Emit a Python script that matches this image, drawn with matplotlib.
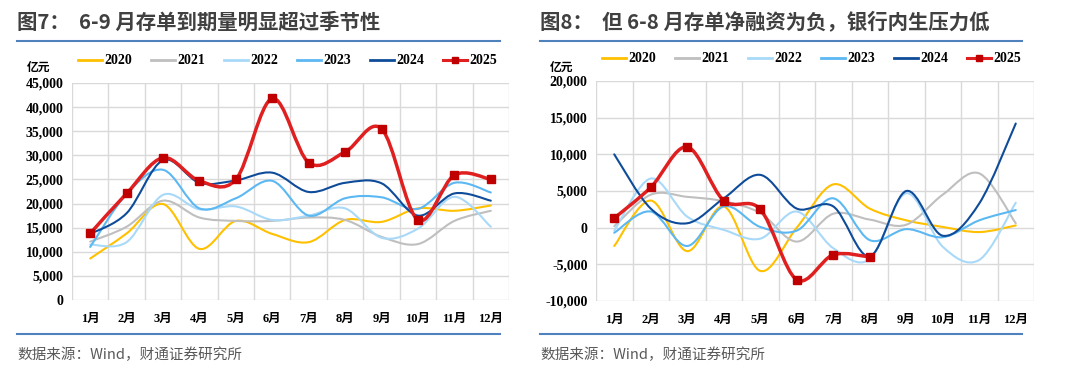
import matplotlib
matplotlib.use("Agg")
import matplotlib.pyplot as plt
from matplotlib.path import Path
from matplotlib.patches import PathPatch
from matplotlib.lines import Line2D
import numpy as np

plt.rcParams['font.family'] = ['Liberation Serif', 'Noto Sans CJK SC', 'DejaVu Sans']

months = ['1月', '2月', '3月', '4月', '5月', '6月', '7月', '8月', '9月', '10月', '11月', '12月']
years = ['2020', '2021', '2022', '2023', '2024', '2025']
colors = ['#FFC000', '#BFBFBF', '#A9D9F8', '#5CB8F2', '#0E4C9A', '#E02020']

# 图7: 存单到期量 (亿元)
mat_2020 = [8600, 13800, 19900, 10600, 16400, 13700, 12000, 16600, 16200, 19000, 18500, 19600]
mat_2021 = [12100, 15200, 20600, 17100, 16400, 16400, 17100, 16600, 13100, 11600, 16400, 18500]
mat_2022 = [11500, 12000, 21800, 18800, 19400, 16600, 17500, 19000, 12900, 14800, 21400, 15200]
mat_2023 = [11000, 22000, 27000, 19000, 21100, 24700, 17500, 21100, 21300, 18900, 24300, 22300]
mat_2024 = [13700, 18000, 29000, 24300, 24800, 26400, 22400, 24300, 24200, 17500, 22100, 20600]
mat_2025 = [13800, 22100, 29500, 24700, 25000, 41800, 28500, 30700, 35500, 16600, 25900, 25000]

# 图8: 存单净融资 (亿元)
net_2020 = [-2500, 3700, -3200, 2900, -5900, 0, 5900, 2600, 1000, 100, -600, 300]
net_2021 = [200, 4500, 4200, 3600, 2000, -1900, 1900, 1100, 400, 4500, 7400, 600]
net_2022 = [-400, 6700, 1500, -300, -1500, 2200, -2800, -4300, 4700, -2600, -4400, 3400]
net_2023 = [-700, 2200, -2500, 2900, 100, -400, 4000, -1700, -200, -1300, 1000, 2400]
net_2024 = [10000, 2600, 600, 4000, 7200, 2600, 2900, -3900, 5000, -1100, 3300, 14200]
net_2025 = [1300, 5500, 11000, 3700, 2500, -7100, -3700, -4000]

left_series = [mat_2020, mat_2021, mat_2022, mat_2023, mat_2024, mat_2025]
right_series = [net_2020, net_2021, net_2022, net_2023, net_2024, net_2025]

fig = plt.figure(figsize=(10.8, 3.77), dpi=100)
W, H = 1080, 377


def smooth_path(xs, ys):
    pts = np.column_stack([xs, ys]).astype(float)
    n = len(pts)
    verts = [pts[0]]
    codes = [Path.MOVETO]
    for i in range(n - 1):
        p0 = pts[i - 1] if i > 0 else pts[i]
        p1 = pts[i]
        p2 = pts[i + 1]
        p3 = pts[i + 2] if i + 2 < n else pts[i + 1]
        c1 = p1 + (p2 - p0) / 6.0
        c2 = p2 - (p3 - p1) / 6.0
        verts += [c1, c2, p2]
        codes += [Path.CURVE4] * 3
    return Path(verts, codes)


def draw_panel(rect, series, ymin, ymax):
    ax = fig.add_axes(rect)
    ax.set_xlim(0.5, 12.5)
    ax.set_ylim(ymin, ymax)
    for s in ax.spines.values():
        s.set_visible(False)
    ax.set_yticks(np.arange(ymin, ymax + 1, 5000))
    ax.set_yticklabels([f'{v:,}' for v in np.arange(ymin, ymax + 1, 5000)],
                       fontsize=10, fontweight='bold')
    ax.set_xticks(np.arange(1, 13))
    ax.set_xticklabels(months, fontsize=9, fontweight='bold')
    ax.tick_params(axis='both', length=0, pad=6)
    ax.tick_params(axis='x', pad=9)
    for yv in np.arange(ymin, ymax + 1, 5000):
        ax.axhline(yv, color='#D9D9D9', lw=1.0, zorder=0)
    for xv in np.arange(0.5, 13, 1):
        ax.axvline(xv, color='#D9D9D9', lw=1.0, zorder=0)
    for i, (vals, c) in enumerate(zip(series, colors)):
        xs = np.arange(1, len(vals) + 1)
        lw = 2.5 if i == 5 else 1.5
        patch = PathPatch(smooth_path(xs, vals), facecolor='none', edgecolor=c,
                          lw=lw, zorder=2 + i, capstyle='round', joinstyle='round')
        ax.add_patch(patch)
        if i == 5:
            ax.plot(xs, vals, linestyle='none', marker='s', markersize=5.5,
                    color='#C00000', zorder=10)
    handles = []
    for i, c in enumerate(colors):
        if i == 5:
            handles.append(Line2D([], [], color=c, lw=2.2, marker='s', markersize=5,
                                  markerfacecolor='#C00000', markeredgecolor='#C00000'))
        else:
            handles.append(Line2D([], [], color=c, lw=2.0))
    ax.legend(handles, years, loc='center left', bbox_to_anchor=(6 / rect[2] / W, 1 + 22 / (rect[3] * H)),
              ncol=6, frameon=False, handlelength=1.75, handletextpad=0.15, columnspacing=1.35,
              prop={'family': 'Liberation Serif', 'weight': 'bold', 'size': 10},
              borderaxespad=0, borderpad=0.0)
    return ax


ax1 = draw_panel([72 / W, 1 - 300 / H, 437 / W, 217 / H], left_series, 0, 45000)
ax2 = draw_panel([596 / W, 1 - 301 / H, 438 / W, 220 / H], right_series, -10000, 20000)

title_color = '#404040'
line_color = '#4F81BD'
fig.text(17 / W, 1 - 22 / H, '图7：  6-9 月存单到期量明显超过季节性', fontsize=14.7,
         fontweight='bold', color=title_color, va='center', ha='left',
         family=['Noto Sans CJK SC', 'DejaVu Sans'])
fig.text(540 / W, 1 - 22 / H, '图8：  但 6-8 月存单净融资为负，银行内生压力低', fontsize=14.7,
         fontweight='bold', color=title_color, va='center', ha='left',
         family=['Noto Sans CJK SC', 'DejaVu Sans'])
for x0, x1 in [(17, 500), (540, 1022)]:
    fig.add_artist(Line2D([x0 / W, x1 / W], [1 - 41 / H, 1 - 41 / H], color=line_color, lw=1.5))
    fig.add_artist(Line2D([x0 / W, x1 / W], [1 - 334 / H, 1 - 334 / H], color=line_color, lw=1.5))
    fig.text(x0 / W, 1 - 355 / H, '数据来源：Wind，财通证券研究所', fontsize=10.5,
             color='#595959', va='center', ha='left',
             family=['Noto Sans CJK SC', 'DejaVu Sans'])

fig.text(39 / W, 1 - 67 / H, '亿元', fontsize=8.5, fontweight='bold', ha='center', va='center',
         family=['Noto Sans CJK SC'])
fig.text(562 / W, 1 - 67 / H, '亿元', fontsize=8.5, fontweight='bold', ha='center', va='center',
         family=['Noto Sans CJK SC'])

fig.savefig('out.png', dpi=100)
